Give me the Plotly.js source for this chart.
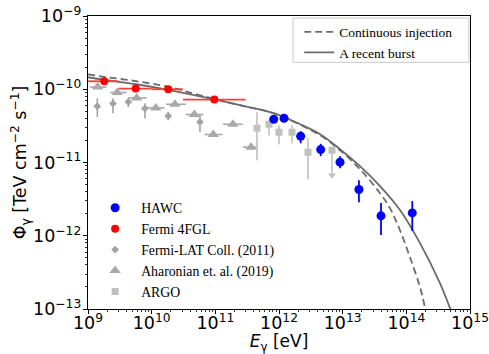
<!DOCTYPE html>
<html>
<head>
<meta charset="utf-8">
<script src="https://cdn.plot.ly/plotly-3.0.1.min.js"></script>
<style>
  html, body { margin: 0; padding: 0; background: #fff; }
  #chart { width: 489px; height: 354px; }
</style>
</head>
<body>
<div id="chart"></div>
<script>
// Gamma-ray spectrum: energy E in eV, flux in TeV cm^-2 s^-1

// Model: continuous injection
const continuousEnergy = [1e9, 1.78e9, 5.68e9, 1.81e10, 5.74e10, 2.44e11, 8.34e11, 2.14e12, 4.41e12,
  9.08e12, 1.87e13, 3.86e13, 5.53e13, 7.94e13, 1.14e14, 1.64e14, 1.96e14, 2.35e14];
const continuousFlux = [1.60e-10, 1.48e-10, 1.29e-10, 1.08e-10, 8.28e-11, 6.05e-11, 4.70e-11, 3.28e-11, 2.36e-11,
  1.47e-11, 8.09e-12, 3.81e-12, 2.38e-12, 1.19e-12, 5.10e-13, 1.99e-13, 1.06e-13, 5.5e-14];

// Model: a recent burst
const burstEnergy = [1e9, 1.78e9, 5.68e9, 1.81e10, 5.74e10, 2.44e11, 8.34e11, 2.14e12, 4.41e12,
  9.08e12, 1.87e13, 3.86e13, 7.94e13, 1.64e14, 3.37e14, 4.84e14, 5.8e14];
const burstFlux = [1.459e-10, 1.349e-10, 1.170e-10, 9.84e-11, 8.02e-11, 6.05e-11, 4.70e-11, 3.33e-11, 2.43e-11,
  1.52e-11, 8.91e-12, 4.75e-12, 2.24e-12, 7.92e-13, 2.25e-13, 1.03e-13, 6.6e-14];

// HAWC
const hawcEnergy = [8.26e11, 1.20e12, 2.19e12, 4.52e12, 9.08e12, 1.80e13, 4.00e13, 1.24e14];
const hawcFlux   = [3.90e-11, 4.02e-11, 2.28e-11, 1.50e-11, 1.01e-11, 4.28e-12, 1.87e-12, 2.05e-12];
const hawcHigh   = [4.15e-11, 4.27e-11, 2.67e-11, 1.80e-11, 1.22e-11, 5.74e-12, 2.79e-12, 2.97e-12];
const hawcLow    = [3.65e-11, 3.77e-11, 1.83e-11, 1.22e-11, 8.35e-12, 2.87e-12, 1.02e-12, 1.16e-12];

// Fermi 4FGL (energy bands)
const fglEnergy = [1.80e9, 5.61e9, 1.82e10, 9.64e10];
const fglFlux   = [1.285e-10, 1.02e-10, 1.00e-10, 7.23e-11];
const fglBandLo = [1e9, 3e9, 1e10, 3.1e10];
const fglBandHi = [3e9, 1e10, 3.1e10, 3.0e11];

// Fermi-LAT Coll. (2011)
const latEnergy = [1.40e9, 2.47e9, 4.30e9, 7.85e9, 1.82e10, 5.74e10];
const latFlux   = [5.86e-11, 6.38e-11, 6.71e-11, 5.46e-11, 4.33e-11, 3.58e-11];
const latHigh   = [7.53e-11, 7.53e-11, 7.53e-11, 6.44e-11, 4.90e-11, 4.42e-11];
const latLow    = [4.19e-11, 4.71e-11, 5.74e-11, 4.02e-11, 3.78e-11, 2.61e-11];

// Aharonian et al. (2019)
const ahaEnergy = [1.42e9, 2.88e9, 5.82e9, 1.16e10, 2.32e10, 4.68e10, 9.29e10, 1.89e11, 3.63e11];
const ahaFlux   = [1.07e-10, 9.02e-11, 7.61e-11, 5.56e-11, 6.24e-11, 4.52e-11, 2.41e-11, 3.33e-11, 1.62e-11];
const ahaBinLo  = [1.07e9, 2.22e9, 4.25e9, 8.4e9, 1.68e10, 3.4e10, 6.8e10, 1.32e11, 2.72e11];
const ahaBinHi  = [1.97e9, 4.06e9, 8.36e9, 1.6e10, 3.46e10, 6.5e10, 1.3e11, 2.72e11, 4.68e11];

// ARGO
const argoEnergy = [4.51e11, 6.97e11, 1.00e12, 1.60e12, 2.85e12];
const argoFlux   = [2.94e-11, 3.33e-11, 2.59e-11, 2.59e-11, 1.38e-11];
const argoHigh   = [4.85e-11, 3.78e-11, 3.23e-11, 3.23e-11, 2.14e-11];
const argoLow    = [1.07e-11, 2.36e-11, 1.78e-11, 1.83e-11, 5.92e-12];
// ARGO upper limit
const argoUlEnergy = [6.79e12];
const argoUlFlux   = [1.47e-11];
const argoUlArrow  = [6.7e-12];

const diff = (a, b) => a.map((v, i) => v - b[i]);

const modelColor = '#6b6b6b';
const serif = 'Liberation Serif, Times New Roman, serif';
const sans = 'DejaVu Sans, sans-serif';

const traces = [
  {
    x: continuousEnergy, y: continuousFlux, mode: 'lines', name: 'Continuous injection',
    line: { color: modelColor, width: 1.8, dash: '7px,4px', shape: 'spline' }, legend: 'legend'
  },
  {
    x: burstEnergy, y: burstFlux, mode: 'lines', name: 'A recent burst',
    line: { color: modelColor, width: 1.8, shape: 'spline' }, legend: 'legend'
  },
  {
    x: latEnergy, y: latFlux, mode: 'markers', name: 'Fermi-LAT Coll. (2011)', legend: 'legend2', legendrank: 3,
    marker: { symbol: 'diamond', size: 6, color: '#a3a3a3' },
    error_y: { type: 'data', symmetric: false, array: diff(latHigh, latFlux), arrayminus: diff(latFlux, latLow),
      color: '#a3a3a3', thickness: 1.6, width: 0 }
  },
  {
    x: ahaEnergy, y: ahaFlux, mode: 'markers', name: 'Aharonian et. al. (2019)', legend: 'legend2', legendrank: 4,
    marker: { symbol: 'triangle-up', size: 10, color: '#a9a9a9' },
    error_x: { type: 'data', symmetric: false, array: diff(ahaBinHi, ahaEnergy), arrayminus: diff(ahaEnergy, ahaBinLo),
      color: '#a9a9a9', thickness: 1.6, width: 0 }
  },
  {
    x: argoEnergy, y: argoFlux, mode: 'markers', name: 'ARGO', legend: 'legend2', legendrank: 5,
    marker: { symbol: 'square', size: 7, color: '#c0c0c0' },
    error_y: { type: 'data', symmetric: false, array: diff(argoHigh, argoFlux), arrayminus: diff(argoFlux, argoLow),
      color: '#c0c0c0', thickness: 1.6, width: 0 }
  },
  {
    x: argoUlEnergy, y: argoUlFlux, mode: 'markers', showlegend: false,
    marker: { symbol: 'square', size: 7, color: '#c0c0c0' },
    error_y: { type: 'data', symmetric: false, array: [0], arrayminus: diff(argoUlFlux, argoUlArrow),
      color: '#c0c0c0', thickness: 1.6, width: 0 }
  },
  {
    x: argoUlEnergy, y: argoUlArrow, mode: 'markers', showlegend: false,
    marker: { symbol: 'triangle-down', size: 7, color: '#c0c0c0' }
  },
  {
    x: fglEnergy, y: fglFlux, mode: 'markers', name: 'Fermi 4FGL', legend: 'legend2', legendrank: 2,
    marker: { symbol: 'circle', size: 8, color: '#ff0000' },
    error_x: { type: 'data', symmetric: false, array: diff(fglBandHi, fglEnergy), arrayminus: diff(fglEnergy, fglBandLo),
      color: '#ff3b3b', thickness: 1.8, width: 0 }
  },
  {
    x: hawcEnergy, y: hawcFlux, mode: 'markers', name: 'HAWC', legend: 'legend2', legendrank: 1,
    marker: { symbol: 'circle', size: 9, color: '#0000ff' },
    error_y: { type: 'data', symmetric: false, array: diff(hawcHigh, hawcFlux), arrayminus: diff(hawcFlux, hawcLow),
      color: '#0000ff', thickness: 1.8, width: 0 }
  }
];

const axisCommon = {
  type: 'log', dtick: 1, exponentformat: 'power', showexponent: 'all',
  showgrid: false, zeroline: false, showline: true, linecolor: '#000', linewidth: 1, mirror: true,
  ticks: 'outside', ticklen: 4, tickwidth: 1, tickcolor: '#000',
  tickfont: { family: sans, size: 14, color: '#000' },
  minor: { ticks: 'outside', ticklen: 2, tickwidth: 0.8, tickcolor: '#000', dtick: 'D1', showgrid: false }
};

const layout = {
  width: 489, height: 354,
  margin: { l: 88, r: 19, t: 16, b: 45 },
  paper_bgcolor: '#fff', plot_bgcolor: '#fff',
  showlegend: true,
  xaxis: Object.assign({}, axisCommon, {
    range: [9, 15],
    ticklabelstandoff: -5,
    title: { text: '<i>E</i><sub>γ</sub> [eV]', font: { family: sans, size: 17, color: '#000' }, standoff: 10 }
  }),
  yaxis: Object.assign({}, axisCommon, {
    range: [-13, -9],
    ticklabelstandoff: -1,
    title: { text: 'Φ<sub>γ</sub> [TeV cm<sup>−2</sup> s<sup>−1</sup>]', font: { family: sans, size: 17.5, color: '#000' }, standoff: 0 }
  }),
  // frame around the model legend
  shapes: [{
    type: 'rect', xref: 'paper', yref: 'paper',
    x0: 0.537, x1: 0.997, y0: 0.842, y1: 0.993,
    line: { color: '#c8c8c8', width: 1 }, fillcolor: 'rgba(255,255,255,0.8)', layer: 'below'
  }],
  legend: {
    x: 0.553, y: 0.998, xanchor: 'left', yanchor: 'top',
    bgcolor: 'rgba(0,0,0,0)', borderwidth: 0,
    font: { family: serif, size: 13.5, color: '#000' }, itemwidth: 30
  },
  legend2: {
    x: 0.003, y: 0.006, xanchor: 'left', yanchor: 'bottom',
    bgcolor: 'rgba(0,0,0,0)', borderwidth: 0,
    font: { family: serif, size: 13.8, color: '#000' }, itemwidth: 42
  }
};

Plotly.newPlot('chart', traces, layout, { staticPlot: true, displayModeBar: false });
</script>
</body>
</html>
